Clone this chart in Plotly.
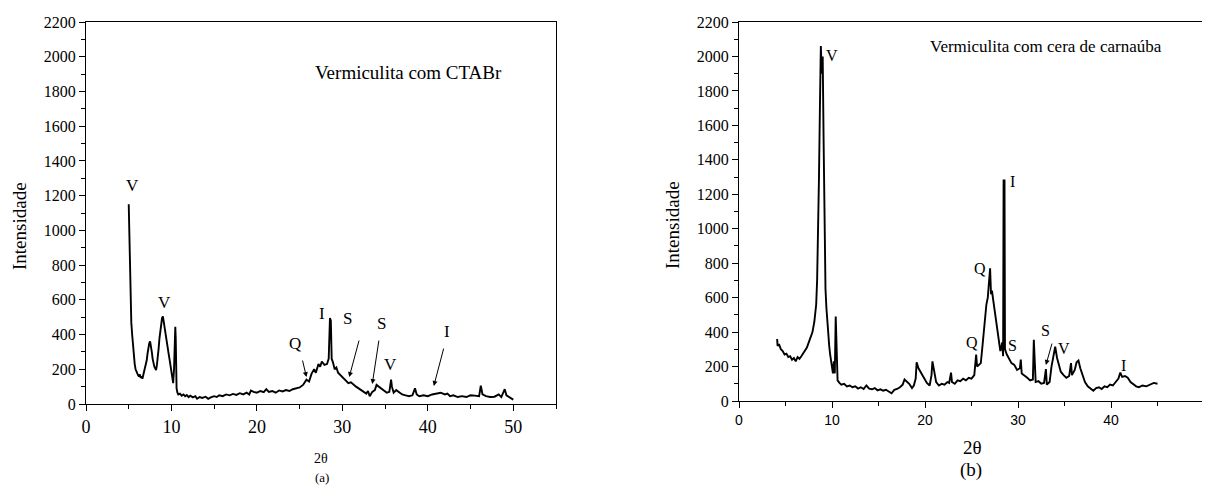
import plotly.graph_objects as go

# ---------------- Data ----------------
ctab_2theta = [5.0, 5.05, 5.1, 5.2, 5.3, 5.4, 5.5, 5.6, 5.7, 5.8, 5.9, 6.0, 6.1, 6.2, 6.3, 6.4, 6.5, 6.6, 6.7,
               6.8, 6.9, 7.0, 7.1, 7.2, 7.3, 7.4, 7.5, 7.6, 7.7, 7.8, 7.9, 8.0, 8.1, 8.2, 8.3, 8.4, 8.5, 8.6,
               8.7, 8.8, 8.9, 9.0, 9.1, 9.2, 9.3, 9.4, 9.5, 9.6, 9.7, 9.8, 9.9, 10.0, 10.1, 10.2, 10.3, 10.4,
               10.45, 10.5, 10.55, 10.6, 10.7, 10.8, 11.0, 11.2, 11.4, 11.6, 11.8, 12.0, 12.2, 12.5, 12.8,
               13.0, 13.3, 13.6, 14.0, 14.3, 14.6, 15.0, 15.3, 15.6, 16.0, 16.4, 16.8, 17.2, 17.6, 18.0, 18.4,
               18.8, 19.1, 19.3, 19.6, 20.0, 20.4, 20.8, 21.1, 21.4, 21.8, 22.2, 22.6, 23.0, 23.4, 23.8, 24.2,
               24.6, 25.0, 25.4, 25.8, 26.1, 26.4, 26.7, 26.9, 27.2, 27.4, 27.6, 27.9, 28.2, 28.4, 28.55, 28.65,
               28.75, 28.9, 29.1, 29.3, 29.5, 29.8, 30.1, 30.4, 30.7, 31.0, 31.3, 31.6, 31.9, 32.2, 32.5, 32.8,
               33.0, 33.2, 33.5, 33.8, 34.0, 34.3, 34.6, 34.9, 35.2, 35.5, 35.7, 35.8, 36.0, 36.3, 36.6, 37.0,
               37.4, 37.8, 38.2, 38.5, 38.7, 39.0, 39.5, 40.0, 40.5, 41.0, 41.5, 42.0, 42.3, 42.6, 43.0, 43.5,
               44.0, 44.5, 45.0, 45.5, 46.0, 46.2, 46.4, 46.8, 47.3, 47.8, 48.3, 48.6, 49.0, 49.2, 49.6, 50.0]
ctab_intensity = [1150, 1020, 800, 600, 470, 400, 330, 270, 230, 200, 185, 170, 165, 158, 170, 150, 160, 145, 165,
                  175, 195, 220, 250, 290, 330, 350, 360, 335, 300, 260, 230, 215, 205, 195, 225, 260, 320, 380,
                  430, 470, 495, 505, 470, 430, 390, 360, 330, 300, 280, 250, 210, 170, 130, 120, 200, 350,
                  445, 380, 200, 90, 65, 55, 60, 48, 55, 45, 52, 40, 48, 38, 45,
                  30, 40, 35, 42, 30, 38, 45, 40, 50, 45, 55, 50, 58, 52, 62, 55,
                  65, 55, 78, 70, 65, 75, 68, 85, 70, 75, 65, 78, 72, 80, 75, 85,
                  90, 95, 110, 140, 130, 175, 200, 180, 230, 215, 245, 225, 230, 260, 495, 480,
                  260, 240, 200, 210, 180, 165, 150, 140, 120, 125, 110, 100, 90, 80, 70, 60,
                  75, 45, 70, 80, 110, 100, 85, 75, 65, 70, 140, 100, 65, 80, 70, 55,
                  50, 45, 50, 90, 55, 45, 50, 45, 55, 60, 65, 55, 60, 45, 50, 40,
                  45, 40, 50, 48, 45, 105, 55, 45, 40, 42, 55, 40, 85, 50, 35, 25]

cera_2theta = [4.1, 4.15, 4.3, 4.5, 4.7, 4.9, 5.1, 5.3, 5.5, 5.7, 5.9, 6.1, 6.3, 6.5, 6.7, 6.9, 7.1, 7.3, 7.5,
               7.7, 7.9, 8.1, 8.3, 8.4, 8.5, 8.6, 8.7, 8.8, 8.9, 9.0, 9.1, 9.2, 9.3, 9.4, 9.5, 9.6, 9.7, 9.8,
               9.9, 10.0, 10.1, 10.2, 10.3, 10.4, 10.5, 10.6, 10.8, 11.0, 11.3, 11.6, 11.9, 12.2, 12.5, 12.8,
               13.1, 13.4, 13.7, 14.0, 14.3, 14.6, 14.9, 15.2, 15.5, 15.8, 16.1, 16.4, 16.7, 17.0, 17.3, 17.6,
               17.8, 18.0, 18.3, 18.6, 18.8, 19.0, 19.1, 19.3, 19.6, 19.9, 20.2, 20.5, 20.7, 20.8, 21.0, 21.2,
               21.5, 21.8, 22.1, 22.4, 22.6, 22.8, 22.9, 23.2, 23.5, 23.8, 24.1, 24.4, 24.7, 25.0, 25.3, 25.5,
               25.6, 25.8, 26.0, 26.2, 26.4, 26.6, 26.75, 26.9, 27.0, 27.1, 27.2, 27.35, 27.5, 27.7, 27.9, 28.1,
               28.2, 28.3, 28.4, 28.45, 28.55, 28.6, 28.8, 29.0, 29.3, 29.6, 29.9, 30.2, 30.3, 30.4, 30.7, 31.0,
               31.3, 31.6, 31.7, 31.8, 31.9, 32.2, 32.5, 32.8, 33.0, 33.1, 33.4, 33.6, 33.8, 34.0, 34.2, 34.4,
               34.6, 34.9, 35.2, 35.5, 35.7, 35.8, 36.1, 36.3, 36.5, 36.7, 36.9, 37.2, 37.5, 37.8, 38.1, 38.4,
               38.7, 39.0, 39.3, 39.6, 39.9, 40.2, 40.5, 40.8, 41.0, 41.2, 41.5, 41.8, 42.1, 42.4, 42.7, 43.0,
               43.4, 43.8, 44.2, 44.6, 45.0]
cera_intensity = [360, 320, 330, 300, 290, 270, 275, 255, 260, 240, 250, 230, 255, 245, 260, 275, 290, 310, 340,
                  370, 400, 460, 560, 700, 950, 1300, 1700, 2060, 1900, 2000, 1500, 900, 650, 540, 450, 380, 320, 270,
                  230, 180, 160, 230, 160, 490, 200, 120, 105, 95, 100, 85, 90, 80, 85, 72,
                  80, 70, 90, 72, 68, 75, 62, 68, 60, 65, 55, 45, 65, 70, 80, 95,
                  125, 115, 100, 75, 90, 130, 225, 190, 160, 130, 105, 90, 150, 230, 180, 110,
                  90, 100, 95, 110, 105, 165, 110, 100, 120, 115, 130, 120, 135, 130, 150, 270,
                  200, 210, 220, 330, 450, 560, 600, 700, 770, 620, 640, 580, 520, 430, 370, 290,
                  310, 340, 260, 1280, 1280, 300, 270, 250, 220, 210, 180, 190, 240, 160, 150, 135,
                  120, 125, 355, 200, 110, 115, 100, 105, 185, 95, 110, 200, 260, 315, 250, 200,
                  170, 150, 135, 145, 220, 150, 180, 225, 235, 190, 160, 110, 85, 70, 60, 75,
                  80, 70, 85, 80, 95, 90, 110, 130, 165, 140, 145, 135, 110, 95, 85, 80,
                  90, 85, 95, 105, 100]

# Peak labels: (text, x, y)
ctab_labels = [("V", 5.4, 1260), ("V", 9.2, 582), ("Q", 24.4, 351), ("I", 27.6, 524),
               ("S", 30.6, 490), ("S", 34.6, 461), ("V", 35.6, 225), ("I", 42.3, 420)]
# Arrows: (tail_x, tail_y, head_x, head_y)
ctab_arrows = [(25.3, 259, 25.8, 155), (32.0, 374, 30.8, 155),
               (34.3, 374, 33.5, 115), (41.9, 328, 40.7, 104)]
cera_labels = [("V", 10.0, 2008), ("I", 29.4, 1277), ("Q", 25.9, 772), ("Q", 25.1, 342),
               ("S", 29.4, 325), ("S", 33.0, 412), ("V", 34.9, 302), ("I", 41.3, 209)]
cera_arrows = [(33.7, 342, 33.0, 209)]

left_title = "Vermiculita com CTABr"
right_title = "Vermiculita com cera de carnaúba"

# ---------------- Figure ----------------
# the page body adds an 8px margin, so the figure is drawn 8px smaller and positions shifted by 8
OFF = 8
W, H = 1210 - OFF, 485 - OFF
SERIF = "Times New Roman, Liberation Serif, serif"
SANS = "Arial, Liberation Sans, sans-serif"

fig = go.Figure()
fig.add_trace(go.Scatter(x=ctab_2theta, y=ctab_intensity, mode="lines",
                         line=dict(color="black", width=1.9), xaxis="x", yaxis="y", showlegend=False))
fig.add_trace(go.Scatter(x=cera_2theta, y=cera_intensity, mode="lines",
                         line=dict(color="black", width=1.9), xaxis="x2", yaxis="y2", showlegend=False))

def px_x(p):
    return (p - OFF) / W

def px_y(p):
    return 1 - (p - OFF) / H

common_axis = dict(showline=True, linecolor="black", linewidth=1.3, mirror=True, ticks="outside",
                   ticklen=6, tickwidth=1.3, tickcolor="black", showgrid=False, zeroline=False,
                   automargin=False)

fig.update_layout(
    width=W, height=H, margin=dict(l=0, r=0, t=0, b=0, autoexpand=False),
    paper_bgcolor="white", plot_bgcolor="white",
    font=dict(family=SERIF, color="black"),
    xaxis=dict(domain=[px_x(86), px_x(556)], range=[0, 55], dtick=10, anchor="y",
               tickfont=dict(family=SERIF, size=18, color="black"),
               minor=dict(dtick=5, ticks="outside", ticklen=4, tickcolor="black", tickwidth=1.2),
               **common_axis),
    yaxis=dict(domain=[px_y(404), px_y(22)], range=[0, 2200], dtick=200, anchor="x",
               tickfont=dict(family=SERIF, size=16, color="black"),
               minor=dict(dtick=100, ticks="outside", ticklen=4, tickcolor="black", tickwidth=1.2),
               **common_axis),
    xaxis2=dict(domain=[px_x(739), px_x(1204)], range=[0, 50], dtick=10, anchor="y2",
                tickfont=dict(family=SANS, size=14, color="black"),
                minor=dict(dtick=5, ticks="outside", ticklen=4, tickcolor="black", tickwidth=1.2),
                **common_axis),
    yaxis2=dict(domain=[px_y(401), px_y(22)], range=[0, 2200], dtick=200, anchor="x2",
                tickfont=dict(family=SERIF, size=16, color="black"),
                minor=dict(dtick=100, ticks="outside", ticklen=4, tickcolor="black", tickwidth=1.2),
                **common_axis),
)

ann = []
for t, x, y in ctab_labels:
    ann.append(dict(text=t, x=x, y=y, xref="x", yref="y", showarrow=False,
                    xanchor="center", yanchor="middle",
                    font=dict(family=SERIF, size=17, color="black")))
for tx, ty, hx, hy in ctab_arrows:
    ann.append(dict(text="", x=hx, y=hy, ax=tx, ay=ty, xref="x", yref="y", axref="x", ayref="y",
                    showarrow=True, arrowhead=2, arrowsize=1, arrowwidth=1, arrowcolor="black"))
for t, x, y in cera_labels:
    ann.append(dict(text=t, x=x, y=y, xref="x2", yref="y2", showarrow=False,
                    xanchor="center", yanchor="middle",
                    font=dict(family=SERIF, size=16, color="black")))
for tx, ty, hx, hy in cera_arrows:
    ann.append(dict(text="", x=hx, y=hy, ax=tx, ay=ty, xref="x2", yref="y2", axref="x2", ayref="y2",
                    showarrow=True, arrowhead=2, arrowsize=1, arrowwidth=1, arrowcolor="black"))

def paper_text(text, x, y, size, angle=0):
    return dict(text=text, x=px_x(x), y=px_y(y), xref="paper", yref="paper", showarrow=False,
                xanchor="center", yanchor="middle", textangle=angle,
                font=dict(family=SERIF, size=size, color="black"))

ann += [
    dict(text=left_title, x=37.7, y=1912, xref="x", yref="y", showarrow=False,
         xanchor="center", yanchor="middle", font=dict(family=SERIF, size=19, color="black")),
    dict(text=right_title, x=33.0, y=2055, xref="x2", yref="y2", showarrow=False,
         xanchor="center", yanchor="middle", font=dict(family=SERIF, size=17, color="black")),
    paper_text("Intensidade", 19, 226, 19, -90),
    paper_text("Intensidade", 672, 225, 19, -90),
    paper_text("2θ", 321, 458, 14),
    paper_text("(a)", 322, 477, 13),
    paper_text("2θ", 972, 447, 19),
    paper_text("(b)", 971, 470, 19),
]
fig.update_layout(annotations=ann)

fig.write_html("out.html")
